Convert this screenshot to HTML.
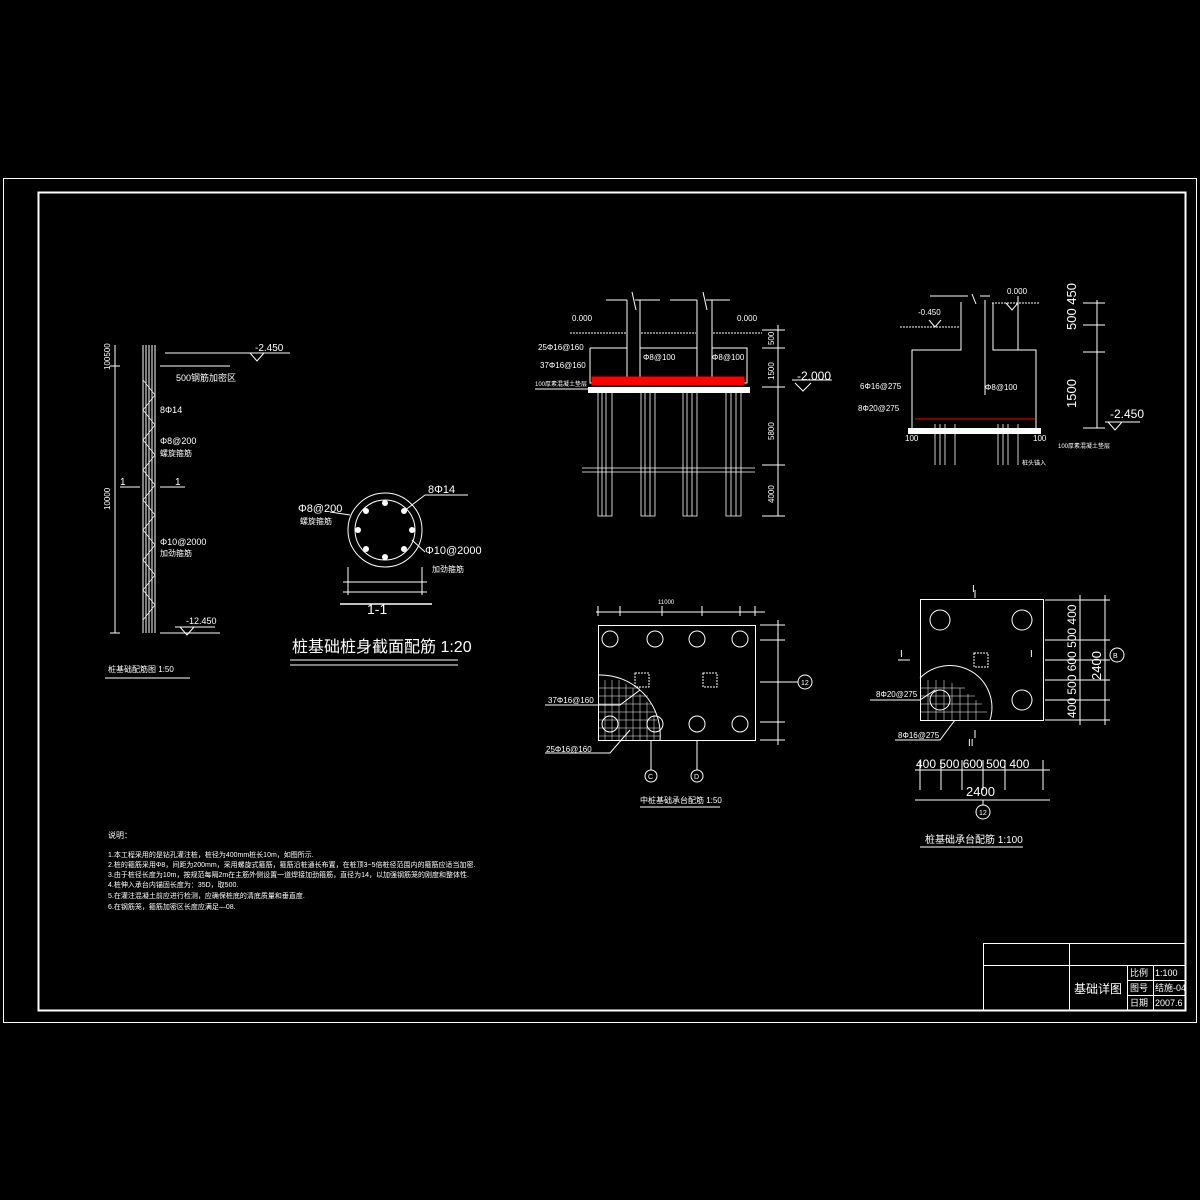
<!DOCTYPE html>
<html><head><meta charset="utf-8"><style>html,body{margin:0;padding:0;background:#000}svg{display:block}</style></head><body>
<svg width="1200" height="1200" viewBox="0 0 1200 1200" xmlns="http://www.w3.org/2000/svg" font-family="Liberation Sans, Noto Sans CJK SC, sans-serif" fill="none" stroke="#fff" stroke-width="1">
<rect width="1200" height="1200" fill="#000" stroke="none"/>
<rect x="3.5" y="178.5" width="1193" height="844"/>
<rect x="38.5" y="192.5" width="1147" height="818" stroke-width="2"/>
<!-- title block -->
<g>
<rect x="983.5" y="943.5" width="202" height="67"/>
<line x1="983" y1="965.5" x2="1185" y2="965.5"/>
<line x1="1069.5" y1="943" x2="1069.5" y2="1010"/>
<line x1="1127.5" y1="965" x2="1127.5" y2="1010"/>
<line x1="1153.5" y1="965" x2="1153.5" y2="1010"/>
<line x1="1127" y1="980.5" x2="1185" y2="980.5"/>
<line x1="1127" y1="995.5" x2="1185" y2="995.5"/>
<g fill="#fff" stroke="none" font-size="9"><text x="1074" y="993" font-size="12">基础详图</text><text x="1130" y="976">比例</text><text x="1155" y="976">1:100</text><text x="1130" y="991">图号</text><text x="1155" y="991">结施-04</text><text x="1130" y="1006">日期</text><text x="1155" y="1006">2007.6</text></g>
</g>
<!-- left pile elevation -->
<g>
<line x1="143" y1="345" x2="143" y2="633"/><line x1="146" y1="345" x2="146" y2="633"/><line x1="149" y1="345" x2="149" y2="633"/><line x1="152" y1="345" x2="152" y2="633"/><line x1="155" y1="345" x2="155" y2="633"/>
<path d="M143 380 L155 395 L143 410 L155 425 L143 440 L155 455 L143 470 L155 485 L143 500 L155 515 L143 530 L155 545 L143 560 L155 575 L143 590 L155 605 L143 620" stroke-width="0.7"/>
<line x1="115" y1="345" x2="115" y2="633"/><line x1="110" y1="366" x2="120" y2="366"/><line x1="110" y1="633" x2="120" y2="633"/>
<line x1="160" y1="366" x2="230" y2="366"/><line x1="160" y1="633" x2="220" y2="633"/>
<line x1="120" y1="487" x2="140" y2="487"/><line x1="160" y1="487" x2="185" y2="487"/>
<line x1="165" y1="353" x2="290" y2="353"/><path d="M250 353 L257 361 L264 353"/><path d="M180 627 L187 635 L194 627"/><line x1="175" y1="627" x2="215" y2="627"/>
<line x1="105" y1="678" x2="190" y2="678"/>
<g fill="#fff" stroke="none" font-size="9"><text x="255" y="351" font-size="10">-2.450</text><text x="176" y="381">500钢筋加密区</text><text x="160" y="413">8Φ14</text><text x="160" y="444">Φ8@200</text><text x="160" y="456" font-size="8">螺旋箍筋</text><text x="160" y="545">Φ10@2000</text><text x="160" y="556" font-size="8">加劲箍筋</text><text x="186" y="624">-12.450</text><text x="120" y="485" font-size="10">1</text><text x="175" y="485" font-size="10">1</text><text x="108" y="672" font-size="8">桩基础配筋图 1:50</text>
<text x="110" y="510" font-size="8" transform="rotate(-90 110 510)">10000</text><text x="110" y="370" font-size="8" transform="rotate(-90 110 370)">100500</text></g>
</g>
<!-- section 1-1 -->
<g>
<circle cx="385" cy="530" r="37"/><circle cx="385" cy="530" r="30"/>
<g fill="#fff" stroke="none"><circle cx="385" cy="503" r="3"/><circle cx="404" cy="511" r="3"/><circle cx="412" cy="530" r="3"/><circle cx="404" cy="549" r="3"/><circle cx="385" cy="557" r="3"/><circle cx="366" cy="549" r="3"/><circle cx="358" cy="530" r="3"/><circle cx="366" cy="511" r="3"/></g>
<line x1="348" y1="567" x2="348" y2="595"/><line x1="422" y1="567" x2="422" y2="595"/><line x1="343" y1="582" x2="427" y2="582"/><line x1="343" y1="592" x2="427" y2="592"/>
<line x1="340" y1="604" x2="432" y2="604" stroke-width="1.5"/><line x1="290" y1="660" x2="458" y2="660"/><line x1="290" y1="665" x2="458" y2="665"/>
<line x1="404" y1="511" x2="425" y2="495"/><line x1="425" y1="495" x2="468" y2="495"/><line x1="412" y1="540" x2="425" y2="552"/><line x1="350" y1="515" x2="330" y2="512"/>
<g fill="#fff" stroke="none"><text x="428" y="493" font-size="11">8Φ14</text><text x="298" y="512" font-size="11">Φ8@200</text><text x="300" y="524" font-size="8">螺旋箍筋</text><text x="425" y="554" font-size="11">Φ10@2000</text><text x="432" y="572" font-size="8">加劲箍筋</text><text x="367" y="614" font-size="14">1-1</text><text x="292" y="652" font-size="16">桩基础桩身截面配筋 1:20</text></g>
</g>
<!-- middle elevation -->
<g>
<path d="M606 300 L627 300 M635 300 L660 300 M670 300 L697 300 M706 300 L730 300"/>
<path d="M627 300 V383 M640 300 V383 M697 300 V383 M712 300 V383 M632 292 L636 310 M703 292 L707 310"/>
<line x1="570" y1="333" x2="626" y2="333" stroke-dasharray="2 1"/><line x1="641" y1="333" x2="696" y2="333" stroke-dasharray="2 1"/><line x1="713" y1="333" x2="762" y2="333" stroke-dasharray="2 1"/>
<path d="M590 348 V383 H747 V348 H712 M627 348 H590 M640 348 H697"/>
<rect x="592" y="377" width="152" height="8" fill="#f00" stroke="#f00"/>
<rect x="588" y="387" width="162" height="6" fill="#fff" stroke="none"/>
<g stroke-width="0.8">
<path d="M598 393 V516 H612 V393 M602 393 V516 M606 393 V516"/>
<path d="M641 393 V516 H655 V393 M645 393 V516 M650 393 V516"/>
<path d="M683 393 V516 H697 V393 M687 393 V516 M692 393 V516"/>
<path d="M726 393 V516 H741 V393 M731 393 V516 M736 393 V516"/>
<line x1="582" y1="468" x2="755" y2="468"/><line x1="582" y1="472" x2="755" y2="472"/></g>
<line x1="778" y1="325" x2="778" y2="516"/><path d="M762 330 H785 M762 348 H785 M762 387 H785 M762 465 H785 M762 516 H785"/>
<line x1="792" y1="380" x2="832" y2="380"/><path d="M795 383 L803 391 L811 383"/>
<line x1="535" y1="389" x2="588" y2="389"/>
<g fill="#fff" stroke="none" font-size="8"><text x="572" y="321">0.000</text><text x="737" y="321">0.000</text><text x="538" y="350">25Φ16@160</text><text x="540" y="368">37Φ16@160</text><text x="535" y="386" font-size="6">100厚素混凝土垫层</text><text x="643" y="360">Φ8@100</text><text x="712" y="360">Φ8@100</text><text x="797" y="380" font-size="12">-2.000</text>
<text x="774" y="345" transform="rotate(-90 774 345)">500</text><text x="774" y="380" transform="rotate(-90 774 380)">1500</text><text x="774" y="440" transform="rotate(-90 774 440)">5800</text><text x="774" y="503" transform="rotate(-90 774 503)">4000</text></g>
</g>
<!-- right elevation -->
<g>
<path d="M930 296 H968 M980 296 H990 M972 294 L976 304 M961 302 V350 H912 V430 M1018 296 V350 M993 303 V350 H1036 V430 M985 300 V395"/>
<line x1="900" y1="327" x2="960" y2="327" stroke-dasharray="2 1"/><line x1="992" y1="303" x2="1040" y2="303" stroke-dasharray="2 1"/>
<path d="M1006 303 L1012 310 L1018 303 M929 320 L935 327 L941 320"/>
<line x1="915" y1="419" x2="1035" y2="419" stroke="#f00"/>
<rect x="908" y="428" width="133" height="6" fill="#fff" stroke="none"/>
<path d="M935 424 V465 M955 424 V465 M940 424 V465 M945 424 V465 M998 424 V465 M1018 424 V465 M1003 424 V465 M1008 424 V465" stroke-width="0.8"/>
<path d="M1083 303 H1105 M1083 325 H1105 M1083 352 H1105 M1083 428 H1105 M1097 300 V428"/>
<path d="M1105 422 H1140 M1108 422 L1115 430 L1122 422"/>
<g fill="#fff" stroke="none" font-size="8"><text x="1007" y="294">0.000</text><text x="918" y="315">-0.450</text><text x="860" y="389">6Φ16@275</text><text x="858" y="411">8Φ20@275</text><text x="985" y="390">Φ8@100</text><text x="905" y="441">100</text><text x="1033" y="441">100</text><text x="1058" y="448" font-size="6">100厚素混凝土垫层</text><text x="1022" y="465" font-size="6">桩头锚入</text><text x="1110" y="418" font-size="12">-2.450</text>
<text x="1076" y="330" font-size="13" transform="rotate(-90 1076 330)">500 450</text><text x="1076" y="408" font-size="13" transform="rotate(-90 1076 408)">1500</text></g>
</g>
<!-- middle plan -->
<g>
<rect x="598.5" y="625.5" width="157" height="115"/>
<circle cx="610" cy="639" r="8"/><circle cx="655" cy="639" r="8"/><circle cx="697" cy="639" r="8"/><circle cx="740" cy="639" r="8"/>
<circle cx="610" cy="724" r="8"/><circle cx="655" cy="724" r="8"/><circle cx="697" cy="724" r="8"/><circle cx="740" cy="724" r="8"/>
<rect x="635" y="673" width="14" height="14" stroke-dasharray="2 1"/><rect x="703" y="673" width="14" height="14" stroke-dasharray="2 1"/>
<path d="M598 675 A60 60 0 0 1 660 740" />
<g stroke-width="0.5"><path d="M605 680 V740 M612 680 V740 M619 680 V740 M626 684 V740 M633 688 V740 M640 694 V740 M647 702 V740 M654 715 V740 M598 688 H640 M598 696 H648 M598 704 H652 M598 712 H655 M598 720 H657 M598 728 H659 M598 736 H660"/></g>
<path d="M596 612 H765 M598 606 V616 M620 606 V616 M662 606 V616 M702 606 V616 M740 606 V616 M755 606 V616"/>
<path d="M760 625 H785 M760 740 H785 M760 640 H785 M760 682 H785 M760 722 H785 M778 620 V745"/>
<circle cx="805" cy="682" r="7"/><line x1="785" y1="682" x2="798" y2="682"/>
<path d="M651 740 V770 M697 740 V770"/><circle cx="651" cy="776" r="6"/><circle cx="697" cy="776" r="6"/>
<path d="M545 705 H620 L640 690 M545 753 H610 L630 730"/>
<line x1="640" y1="807" x2="720" y2="807"/>
<g fill="#fff" stroke="none" font-size="8"><text x="658" y="604" font-size="6">11000</text><text x="548" y="703">37Φ16@160</text><text x="546" y="752">25Φ16@160</text><text x="801" y="685" font-size="7">12</text><text x="648" y="779" font-size="7">C</text><text x="694" y="779" font-size="7">D</text><text x="640" y="803">中桩基础承台配筋 1:50</text></g>
</g>
<!-- right plan -->
<g>
<rect x="920.5" y="599.5" width="123" height="121"/>
<circle cx="940" cy="620" r="10"/><circle cx="1022" cy="620" r="10"/><circle cx="940" cy="700" r="10"/><circle cx="1022" cy="700" r="10"/>
<rect x="974" y="653" width="14" height="14" stroke-dasharray="2 1"/>
<path d="M920 678 A42 42 0 0 1 990 720"/>
<g stroke-width="0.5"><path d="M928 680 V720 M936 680 V720 M944 680 V720 M952 683 V720 M960 688 V720 M968 694 V720 M976 700 V720 M920 688 H965 M920 696 H975 M920 704 H982 M920 712 H987"/></g>
<path d="M975 590 V598 M975 730 V738 M898 660 H910 M1050 660 H1060"/>
<path d="M1045 600 H1110 M1045 640 H1110 M1045 660 H1110 M1045 680 H1110 M1045 700 H1110 M1045 720 H1110 M1105 595 V725 M1080 595 V725"/>
<circle cx="1117" cy="655" r="7"/>
<path d="M915 770 H1050 M920 760 V790 M941 760 V790 M962 760 V790 M983 760 V790 M1005 760 V790 M1043 760 V790 M915 800 H1050"/>
<circle cx="983" cy="812" r="7"/><line x1="983" y1="800" x2="983" y2="805"/>
<path d="M870 700 H920 L935 690 M895 740 H940 L955 720"/>
<line x1="920" y1="847" x2="1023" y2="847"/>
<g fill="#fff" stroke="none"><text x="972" y="592" font-size="10">I</text><text x="968" y="746" font-size="10">II</text><text x="900" y="657" font-size="10">I</text><text x="1030" y="657" font-size="10">I</text><text x="876" y="697" font-size="8">8Φ20@275</text><text x="898" y="738" font-size="8">8Φ16@275</text><text x="1113" y="658" font-size="7">B</text><text x="979" y="815" font-size="7">12</text><text x="966" y="796" font-size="13">2400</text><text x="916" y="768" font-size="12">400 500 600 500 400</text><text x="925" y="843" font-size="10">桩基础承台配筋 1:100</text>
<text x="1101" y="680" font-size="13" transform="rotate(-90 1101 680)">2400</text><text x="1076" y="718" font-size="12" transform="rotate(-90 1076 718)">400 500 600 500 400</text></g>
</g>
<!-- notes -->
<g fill="#fff" stroke="none" font-size="7">
<text x="108" y="838" font-size="8">说明：</text>
<text x="108" y="857">1.本工程采用的是钻孔灌注桩，桩径为400mm桩长10m，如图所示.</text>
<text x="108" y="867">2.桩的箍筋采用Φ8，间距为200mm，采用螺旋式箍筋，箍筋沿桩通长布置，在桩顶3~5倍桩径范围内的箍筋应适当加密.</text>
<text x="108" y="877">3.由于桩径长度为10m，按规范每隔2m在主筋外侧设置一道焊接加劲箍筋，直径为14，以加强钢筋笼的刚度和整体性.</text>
<text x="108" y="887">4.桩伸入承台内锚固长度为：35D，取500.</text>
<text x="108" y="898">5.在灌注混凝土前应进行检测，应确保桩底的清底质量和垂直度.</text>
<text x="108" y="909">6.在钢筋笼，箍筋加密区长度应满足—08.</text>
</g>
</svg>
</body></html>
